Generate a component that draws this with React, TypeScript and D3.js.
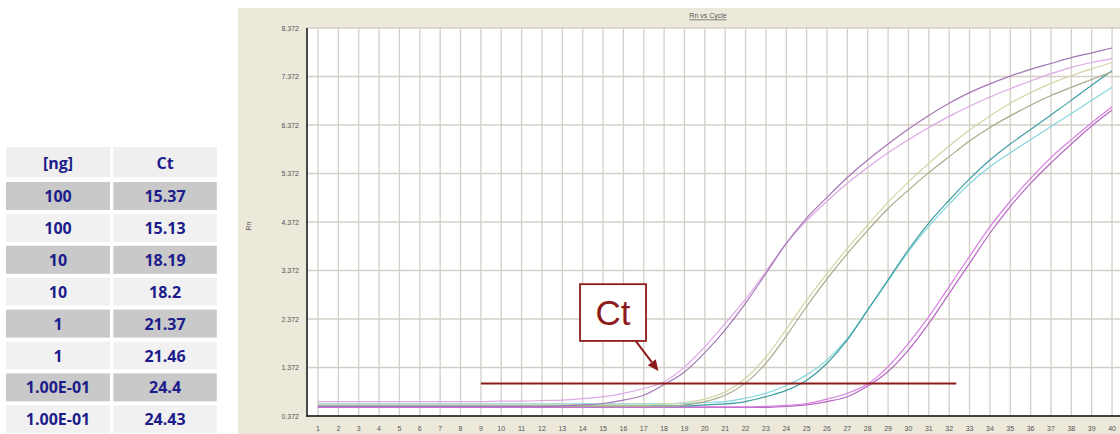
import React from "react";
import * as d3 from "d3";

// ---- Table data ----
const tableHeader = ["[ng]", "Ct"];
const amounts = ["100", "100", "10", "10", "1", "1", "1.00E-01", "1.00E-01"];
const ctValues = ["15.37", "15.13", "18.19", "18.2", "21.37", "21.46", "24.4", "24.43"];

// ---- Chart data ----
const cycles = d3.range(1, 41);
const yTicks = [0.372, 1.372, 2.372, 3.372, 4.372, 5.372, 6.372, 7.372, 8.372];
const chartTitle = "Rn vs Cycle";
const yLabel = "Rn";

const s1a = [0.57,0.57,0.57,0.57,0.57,0.57,0.57,0.57,0.57,0.57,0.57,0.57,0.58,0.60,0.63,0.70,0.80,1.02,1.28,1.68,2.15,2.70,3.31,3.93,4.45,4.88,5.29,5.65,5.98,6.29,6.57,6.82,7.04,7.22,7.38,7.52,7.64,7.76,7.86,7.96];
const s1b = [0.67,0.67,0.67,0.67,0.67,0.67,0.67,0.67,0.67,0.68,0.68,0.69,0.70,0.73,0.77,0.84,0.94,1.08,1.38,1.80,2.28,2.78,3.35,3.93,4.40,4.80,5.17,5.50,5.80,6.07,6.32,6.55,6.76,6.95,7.12,7.28,7.43,7.56,7.66,7.74];
const s2a = [0.60,0.60,0.60,0.60,0.60,0.60,0.60,0.60,0.60,0.60,0.60,0.60,0.60,0.60,0.60,0.60,0.60,0.62,0.65,0.72,0.87,1.15,1.59,2.16,2.76,3.31,3.83,4.31,4.78,5.20,5.58,5.94,6.27,6.56,6.82,7.04,7.23,7.39,7.53,7.66];
const s2b = [0.57,0.57,0.57,0.57,0.57,0.57,0.57,0.57,0.57,0.57,0.57,0.57,0.57,0.57,0.57,0.57,0.57,0.57,0.60,0.67,0.80,1.05,1.46,2.02,2.63,3.20,3.72,4.20,4.65,5.03,5.39,5.72,6.04,6.32,6.56,6.78,6.98,7.15,7.31,7.47];
const s3a = [0.58,0.58,0.58,0.58,0.58,0.58,0.58,0.58,0.58,0.58,0.58,0.58,0.58,0.58,0.58,0.58,0.58,0.58,0.58,0.60,0.62,0.67,0.77,0.90,1.11,1.46,1.94,2.56,3.18,3.80,4.35,4.82,5.26,5.65,5.98,6.28,6.58,6.88,7.19,7.49];
const s3b = [0.62,0.62,0.62,0.62,0.62,0.62,0.62,0.62,0.62,0.62,0.62,0.62,0.62,0.62,0.62,0.62,0.62,0.62,0.63,0.65,0.67,0.74,0.84,1.00,1.22,1.53,1.97,2.56,3.16,3.76,4.28,4.74,5.16,5.51,5.80,6.07,6.34,6.61,6.88,7.15];
const s4a = [0.56,0.56,0.56,0.56,0.56,0.56,0.56,0.56,0.56,0.56,0.56,0.56,0.56,0.56,0.56,0.56,0.56,0.56,0.56,0.56,0.56,0.56,0.57,0.59,0.63,0.72,0.84,1.03,1.39,1.87,2.42,3.04,3.66,4.27,4.80,5.27,5.70,6.07,6.42,6.75];
const s4b = [0.55,0.55,0.55,0.55,0.55,0.55,0.55,0.55,0.55,0.55,0.55,0.55,0.55,0.55,0.55,0.55,0.55,0.55,0.55,0.55,0.55,0.55,0.55,0.57,0.60,0.67,0.77,0.99,1.29,1.73,2.28,2.90,3.52,4.14,4.69,5.17,5.59,5.98,6.35,6.68];

const seriesList = [s4b, s4a, s3b, s3a, s2b, s2a, s1b, s1a];
const seriesColors = ["#b468c0", "#d67ee0", "#86d6de", "#3e9ea2", "#a9a98a", "#d4d4a8", "#dca8e6", "#a477b4"];

const threshold = 1.04;
const thresholdFrom = 9;
const thresholdTo = 32.35;

// Ct annotation in data units
const ctBox = { c0: 13.87, c1: 17.11, r0: 1.92, r1: 3.09 };
const ctArrow = { c0: 16.6, r0: 1.92, c1: 17.72, r1: 1.30 };

const W = 1120;
const H = 434;

export default function App() {
  const x = d3.scaleLinear().domain([0.46, 40.39]).range([307, 1120]);
  const y = d3.scaleLinear().domain([0.372, 8.372]).range([416, 28]);
  const line = d3
    .line<number>()
    .x((_, i) => x(cycles[i]))
    .y((d) => y(d))
    .curve(d3.curveMonotoneX);

  const red = "#8e1b1b";
  const fmt = d3.format(".3f");

  // table layout
  const colX = [6, 113.3];
  const colW = [104, 103.5];
  const rowTop = (i: number) => 182 + i * 31.9;

  // arrow head
  const ax0 = x(ctArrow.c0), ay0 = y(ctArrow.r0), ax1 = x(ctArrow.c1), ay1 = y(ctArrow.r1);
  const ang = Math.atan2(ay1 - ay0, ax1 - ax0);
  const hl = 11, hw = 5;
  const bx = ax1 - hl * Math.cos(ang), by = ay1 - hl * Math.sin(ang);
  const head = [
    [ax1, ay1],
    [bx + hw * Math.sin(ang), by - hw * Math.cos(ang)],
    [bx - hw * Math.sin(ang), by + hw * Math.cos(ang)],
  ];

  return (
    <svg
      width={W}
      height={H}
      style={{ position: "absolute", left: 0, top: 0, background: "#fff" }}
      fontFamily="'Liberation Sans', Arial, sans-serif"
    >
      {/* Table */}
      <g fontFamily="'Open Sans', sans-serif" fontWeight={700} fontSize={16} fill="#1c1c8a">
        {tableHeader.map((h, j) => (
          <g key={"h" + j}>
            <rect x={colX[j]} y={147} width={colW[j]} height={30} fill="#efefef" />
            <text x={colX[j] + colW[j] / 2} y={162.5} textAnchor="middle" dominantBaseline="central">
              {h}
            </text>
          </g>
        ))}
        {amounts.map((a, i) => (
          <g key={"r" + i}>
            {[a, ctValues[i]].map((v, j) => (
              <g key={j}>
                <rect
                  x={colX[j]}
                  y={rowTop(i)}
                  width={colW[j]}
                  height={28}
                  fill={i % 2 === 0 ? "#c9c9c9" : "#f1f1f1"}
                />
                <text
                  x={colX[j] + colW[j] / 2}
                  y={rowTop(i) + 14}
                  textAnchor="middle"
                  dominantBaseline="central"
                >
                  {v}
                </text>
              </g>
            ))}
          </g>
        ))}
      </g>

      {/* Chart panel */}
      <rect x={238} y={8} width={W - 238} height={H - 8} fill="#ece9db" />
      <text
        x={708}
        y={15}
        textAnchor="middle"
        dominantBaseline="central"
        fontSize={7}
        fill="#555"
        textDecoration="underline"
      >
        {chartTitle}
      </text>
      <text
        transform={`translate(248,226) rotate(-90)`}
        textAnchor="middle"
        dominantBaseline="central"
        fontSize={7}
        fill="#555"
      >
        {yLabel}
      </text>
      <rect x={307} y={y(8.372)} width={W - 307} height={y(0.372) - y(8.372)} fill="#fff" />

      {/* grid */}
      <g stroke="#d2cfc6" strokeWidth={1.3}>
        {cycles.map((c) => (
          <line key={"v" + c} x1={x(c)} x2={x(c)} y1={y(8.372)} y2={y(0.372)} />
        ))}
        {yTicks.map((t) => (
          <line key={"g" + t} x1={307} x2={W} y1={y(t)} y2={y(t)} />
        ))}
      </g>

      {/* tick labels */}
      <g fontSize={7} fill="#555">
        {yTicks.map((t) => (
          <text key={"yl" + t} x={299} y={y(t)} textAnchor="end" dominantBaseline="central">
            {fmt(t)}
          </text>
        ))}
        {cycles.map((c) => (
          <text key={"xl" + c} x={x(c)} y={428.5} textAnchor="middle" dominantBaseline="central">
            {c}
          </text>
        ))}
      </g>

      {/* curves */}
      <g fill="none" strokeWidth={1.2}>
        {seriesList.map((s, i) => (
          <path key={"s" + i} d={line(s) || ""} stroke={seriesColors[i]} />
        ))}
      </g>

      {/* axes */}
      <line x1={307} x2={307} y1={y(8.372)} y2={y(0.372) + 1} stroke="#111" strokeWidth={1.5} />
      <line x1={307} x2={W} y1={y(0.372)} y2={y(0.372)} stroke="#111" strokeWidth={1.5} />

      {/* threshold */}
      <line
        x1={x(thresholdFrom)}
        x2={x(thresholdTo)}
        y1={y(threshold)}
        y2={y(threshold)}
        stroke={red}
        strokeWidth={2}
      />

      {/* Ct annotation */}
      <rect
        x={x(ctBox.c0)}
        y={y(ctBox.r1)}
        width={x(ctBox.c1) - x(ctBox.c0)}
        height={y(ctBox.r0) - y(ctBox.r1)}
        fill="#fff"
        stroke={red}
        strokeWidth={1.8}
      />
      <text
        x={(x(ctBox.c0) + x(ctBox.c1)) / 2}
        y={325}
        textAnchor="middle"
        fontSize={35}
        fill={red}
      >
        Ct
      </text>
      <line x1={ax0} y1={ay0} x2={bx} y2={by} stroke={red} strokeWidth={2} />
      <polygon points={head.map((p) => p.join(",")).join(" ")} fill={red} />
    </svg>
  );
}
